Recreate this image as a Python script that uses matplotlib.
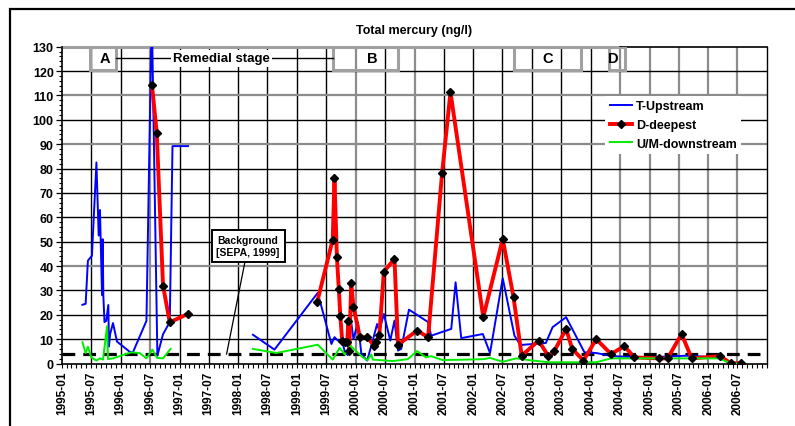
import numpy as np
import pandas as pd
import matplotlib
matplotlib.use('Agg')
import matplotlib.pyplot as plt
import matplotlib.dates as mdates
from matplotlib.lines import Line2D
from matplotlib.patches import Rectangle

plt.rcParams['font.family'] = ['Liberation Sans', 'DejaVu Sans']
plt.rcParams['font.weight'] = 'bold'

# ---- data: total mercury (ng/l), NaN breaks the line
up_dates = ['1995-05-08', '1995-05-28', '1995-06-11', '1995-07-06', '1995-08-03', '1995-08-17',
            '1995-08-25', '1995-08-29', '1995-09-07', '1995-09-11', '1995-09-15', '1995-09-22',
            '1995-10-03', '1995-10-16', '1995-10-20', '1995-10-27', '1995-11-14', '1995-12-09',
            '1996-02-26', '1996-03-17', '1996-06-09', '1996-07-12', '1996-08-16', '1996-09-20',
            '1996-11-01', '1996-11-18', '1997-02-23', '1997-09-01',
            '1998-04-02', '1998-08-14', '1999-05-10', '1999-08-03', '1999-08-22', '1999-09-06',
            '1999-10-13', '1999-10-25', '1999-11-11', '1999-11-28', '1999-12-18', '2000-01-15',
            '2000-02-05', '2000-03-12', '2000-04-10', '2000-05-13', '2000-05-27', '2000-06-24',
            '2000-08-03', '2000-08-29', '2000-09-20', '2000-10-10', '2000-11-27', '2001-03-26',
            '2001-04-14', '2001-08-17', '2001-09-13', '2001-10-18', '2002-03-01', '2002-04-15',
            '2002-07-03', '2002-09-14', '2002-10-21', '2003-03-28', '2003-05-09', '2003-08-01',
            '2003-11-23', '2004-02-04', '2004-05-16', '2004-12-15', '2005-08-16', '2006-03-10']
up_vals = [24.1, 24.5, 42.2, 44.2, 82.5, 52.5,
           63.0, 52.0, 28.0, 51.0, 28.0, 17.0,
           17.5, 24.0, 7.0, 12.0, 16.6, 9.0,
           4.8, 4.6, 17.5, 145.0, 3.2, 12.0,
           17.0, 89.2, 89.2, np.nan,
           11.8, 5.7, 29.0, 8.0, 10.8, 9.8,
           8.0, 4.9, 3.5, 19.9, 10.0, 16.9,
           3.9, 1.2, 8.0, 16.2, 13.5, 20.3,
           9.4, 17.6, 5.3, 6.0, 22.1, 17.0,
           11.4, 14.2, 33.3, 10.4, 12.1, 4.3,
           35.0, 11.4, 7.6, 8.4, 14.9, 19.0,
           4.6, 4.3, 3.0, 2.5, 3.2, 2.5]

deep_dates = ['1996-07-13', '1996-08-12', '1996-09-20', '1996-11-01', '1997-02-20', '1997-09-01',
              '1999-05-06', '1999-08-11', '1999-08-22', '1999-09-06', '1999-09-18', '1999-09-27',
              '1999-10-09', '1999-10-28', '1999-11-10', '1999-11-16', '1999-11-22', '1999-12-04',
              '1999-12-18', '2000-01-27', '2000-03-14', '2000-04-25', '2000-05-07', '2000-05-27',
              '2000-06-24', '2000-08-29', '2000-09-20', '2001-01-16', '2001-03-26', '2001-06-21',
              '2001-08-12', '2002-03-04', '2002-07-03', '2002-09-08', '2002-10-29', '2003-02-11',
              '2003-04-13', '2003-05-19', '2003-08-01', '2003-09-08', '2003-11-17', '2004-02-04',
              '2004-05-06', '2004-07-28', '2004-09-29', '2005-02-28', '2005-04-23', '2005-07-19',
              '2005-09-20', '2006-03-16', '2006-05-21', '2006-07-26']
deep_vals = [114.4, 94.7, 32.0, 16.9, 20.3, np.nan,
             25.1, 50.8, 76.0, 43.6, 30.6, 19.6,
             9.4, 9.0, 9.0, 17.6, 5.3, 33.1,
             23.3, 10.8, 10.8, 7.1, 9.0, 11.7,
             37.7, 42.9, 7.7, 13.5, 10.8, 78.1,
             111.4, 19.0, 51.1, 27.2, 3.2, 9.4,
             3.0, 5.0, 14.2, 6.0, 1.2, 10.0,
             3.9, 7.1, 2.5, 2.1, 2.1, 12.1,
             2.1, 3.0, 0.1, 0.1]

down_dates = ['1995-05-08', '1995-05-28', '1995-06-11', '1995-07-02', '1995-08-03', '1995-08-23',
              '1995-09-13', '1995-10-08', '1995-10-14', '1995-11-14', '1996-03-07', '1996-04-28',
              '1996-06-09', '1996-07-16', '1996-08-14', '1996-09-20', '1996-11-06', '1997-09-01',
              '1998-04-02', '1998-08-25', '1999-05-10', '1999-08-11', '1999-09-23', '1999-10-25',
              '1999-11-30', '2000-02-15', '2000-03-14', '2000-04-07', '2000-04-16', '2000-08-19',
              '2000-11-21', '2001-01-16', '2001-03-13', '2001-04-14', '2001-06-25', '2001-11-18',
              '2002-03-10', '2002-04-15', '2002-07-03', '2002-09-25', '2003-01-06', '2003-04-19',
              '2004-02-04', '2004-05-06', '2006-03-10', '2006-05-21', '2006-07-02']
down_vals = [8.7, 4.3, 6.9, 2.5, 1.2, 2.1,
             1.6, 15.3, 1.8, 2.1, 4.6, 4.3,
             2.1, 5.7, 2.3, 2.1, 6.0, np.nan,
             6.0, 4.3, 7.7, 1.6, 6.4, 3.7,
             7.2, 2.5, 1.4, 3.7, 1.6, 1.0,
             1.8, 5.1, 2.5, 3.0, 1.4, 1.6,
             1.8, 2.3, 0.7, 2.1, 1.2, 0.5,
             0.5, 2.1, 2.1, 0.0, 0.0]

background = 3.8

# project stages: label, start, end
stage_labels = ['A', 'B', 'C', 'D']
stage_start = ['1995-06-26', '1999-08-10', '2002-09-08', '2004-04-22']
stage_end = ['1995-12-01', '2000-09-22', '2003-11-04', '2004-07-30']

up_dates = pd.to_datetime(up_dates)
deep_dates = pd.to_datetime(deep_dates)
down_dates = pd.to_datetime(down_dates)
D = lambda s: mdates.date2num(pd.Timestamp(s))

fig = plt.figure(figsize=(7.95, 4.27), dpi=100)
ax = fig.add_axes([62 / 795, 1 - 364.5 / 427, 705 / 795, 316.8 / 427])

x0, x1 = pd.Timestamp('1995-01-01'), pd.Timestamp('2007-01-01')
ax.set_xlim(x0, x1)
ax.set_ylim(0, 130)

# grid: half-year verticals, 10 ng/l horizontals
gray_x = ['1996-07-01', '2000-01-01', '2001-01-01', '2004-07-01', '2005-01-01',
          '2005-07-01', '2006-01-01', '2006-07-01']
for d in pd.date_range('1995-07-01', '2006-12-31', freq='6MS'):
    if d.strftime('%Y-%m-%d') in gray_x:
        ax.axvline(d, color='#8c8c8c', lw=1.6, zorder=1)
    else:
        ax.axvline(d, color='black', lw=1.0, zorder=1, snap=True)
for v in range(10, 130, 10):
    if v in (40, 90, 110):
        ax.axhline(v, color='#8c8c8c', lw=1.6, zorder=1)
    else:
        ax.axhline(v, color='black', lw=1.0, zorder=1, snap=True)

ax.spines['top'].set_visible(False)
ax.spines['right'].set_linewidth(1.0)
ax.spines['left'].set_linewidth(1.2)
ax.spines['bottom'].set_linewidth(1.2)
split = (D('2004-07-01') - D(x0)) / (D(x1) - D(x0))
ax.axhline(130, xmin=0, xmax=split, color='#a0a0a0', lw=2.2, zorder=2, clip_on=False)
ax.axhline(130, xmin=split, xmax=1, color='black', lw=1.2, zorder=2, clip_on=False)

# stage boxes
for lab, s, e in zip(stage_labels, stage_start, stage_end):
    ax.add_patch(Rectangle((D(s), 120.5), D(e) - D(s), 9.5, facecolor='none',
                           edgecolor='#a0a0a0', lw=2.2, zorder=3))
lab_x = ['1995-09-25', '2000-04-15', '2003-04-06', '2004-05-21']
for lab, lx in zip(stage_labels, lab_x):
    ax.text(pd.Timestamp(lx), 125.2, lab, ha='center', va='center', fontsize=10.5,
            fontweight='bold', zorder=4)

ax.plot([pd.Timestamp('1995-12-05'), pd.Timestamp('1999-08-10')], [125.2, 125.2],
        color='black', lw=1.0, zorder=3)
ax.text(pd.Timestamp('1997-09-20'), 125.2, 'Remedial stage', ha='center', va='center',
        fontsize=9.5, fontweight='bold', zorder=4,
        bbox=dict(facecolor='white', edgecolor='none', pad=1.5))

# background level
ax.axhline(background, color='black', lw=2.3, dashes=(4, 2.5), zorder=6)
ax.annotate('Background\n[SEPA, 1999]', xy=(pd.Timestamp('1997-10-20'), background),
            xytext=(pd.Timestamp('1998-03-03'), 48.2), ha='center', va='center',
            fontsize=7.5, fontweight='bold', linespacing=1.35, zorder=7,
            bbox=dict(facecolor='white', edgecolor='black', lw=1.4, pad=3.5),
            arrowprops=dict(arrowstyle='-', color='black', lw=0.9, shrinkA=0, shrinkB=0))

# series
ax.plot(up_dates, up_vals, color='#0000ff', lw=1.4, zorder=8)
ax.plot(deep_dates, deep_vals, color='#ff0000', lw=2.8, zorder=9)
ax.plot(down_dates, down_vals, color='#00ee00', lw=1.4, zorder=10)
ax.plot(deep_dates, deep_vals, ls='none', marker='D', ms=4.2, color='black', zorder=11)

# axes ticks
ax.set_xticks(pd.date_range('1995-01-01', '2006-07-01', freq='6MS'))
ax.xaxis.set_major_formatter(mdates.DateFormatter('%Y-%m'))
ax.xaxis.set_minor_locator(mdates.MonthLocator())
ax.xaxis.set_tick_params(which='both', direction='out', length=3, width=0.8)
ax.yaxis.set_major_locator(plt.MultipleLocator(10))
ax.yaxis.set_minor_locator(plt.MultipleLocator(2))
ax.yaxis.set_tick_params(which='major', direction='out', length=4, width=0.9)
ax.yaxis.set_tick_params(which='minor', direction='out', length=2.5, width=0.8)
for t in ax.get_xticklabels():
    t.set_rotation(90)
    t.set_fontsize(8.5)
    t.set_fontweight('bold')
for t in ax.get_yticklabels():
    t.set_fontsize(9)
    t.set_fontweight('bold')
ax.tick_params(axis='x', pad=2)
ax.tick_params(axis='y', pad=2)

handles = [Line2D([], [], color='#0000ff', lw=1.4),
           Line2D([], [], color='#ff0000', lw=2.8, marker='D', ms=4.2,
                  markerfacecolor='black', markeredgecolor='black'),
           Line2D([], [], color='#00ee00', lw=1.4)]
leg = ax.legend(handles, ['T-Upstream', 'D-deepest', 'U/M-downstream'], loc='upper left',
                bbox_to_anchor=(0.762, 0.865), frameon=True, fancybox=False, framealpha=1,
                edgecolor='none', facecolor='white', handlelength=1.8, handletextpad=0.3,
                labelspacing=0.55, borderpad=0.35, prop={'size': 9, 'weight': 'bold'})
leg.set_zorder(12)

ax.set_title('Total mercury (ng/l)', fontsize=9, fontweight='bold', pad=10)

# outer frame
fig.patches.append(Rectangle((10 / 795, -0.05), 1.2, 1.05 - 10 / 427, transform=fig.transFigure,
                             facecolor='none', edgecolor='black', lw=1.6))

fig.savefig('out.png', dpi=100)
